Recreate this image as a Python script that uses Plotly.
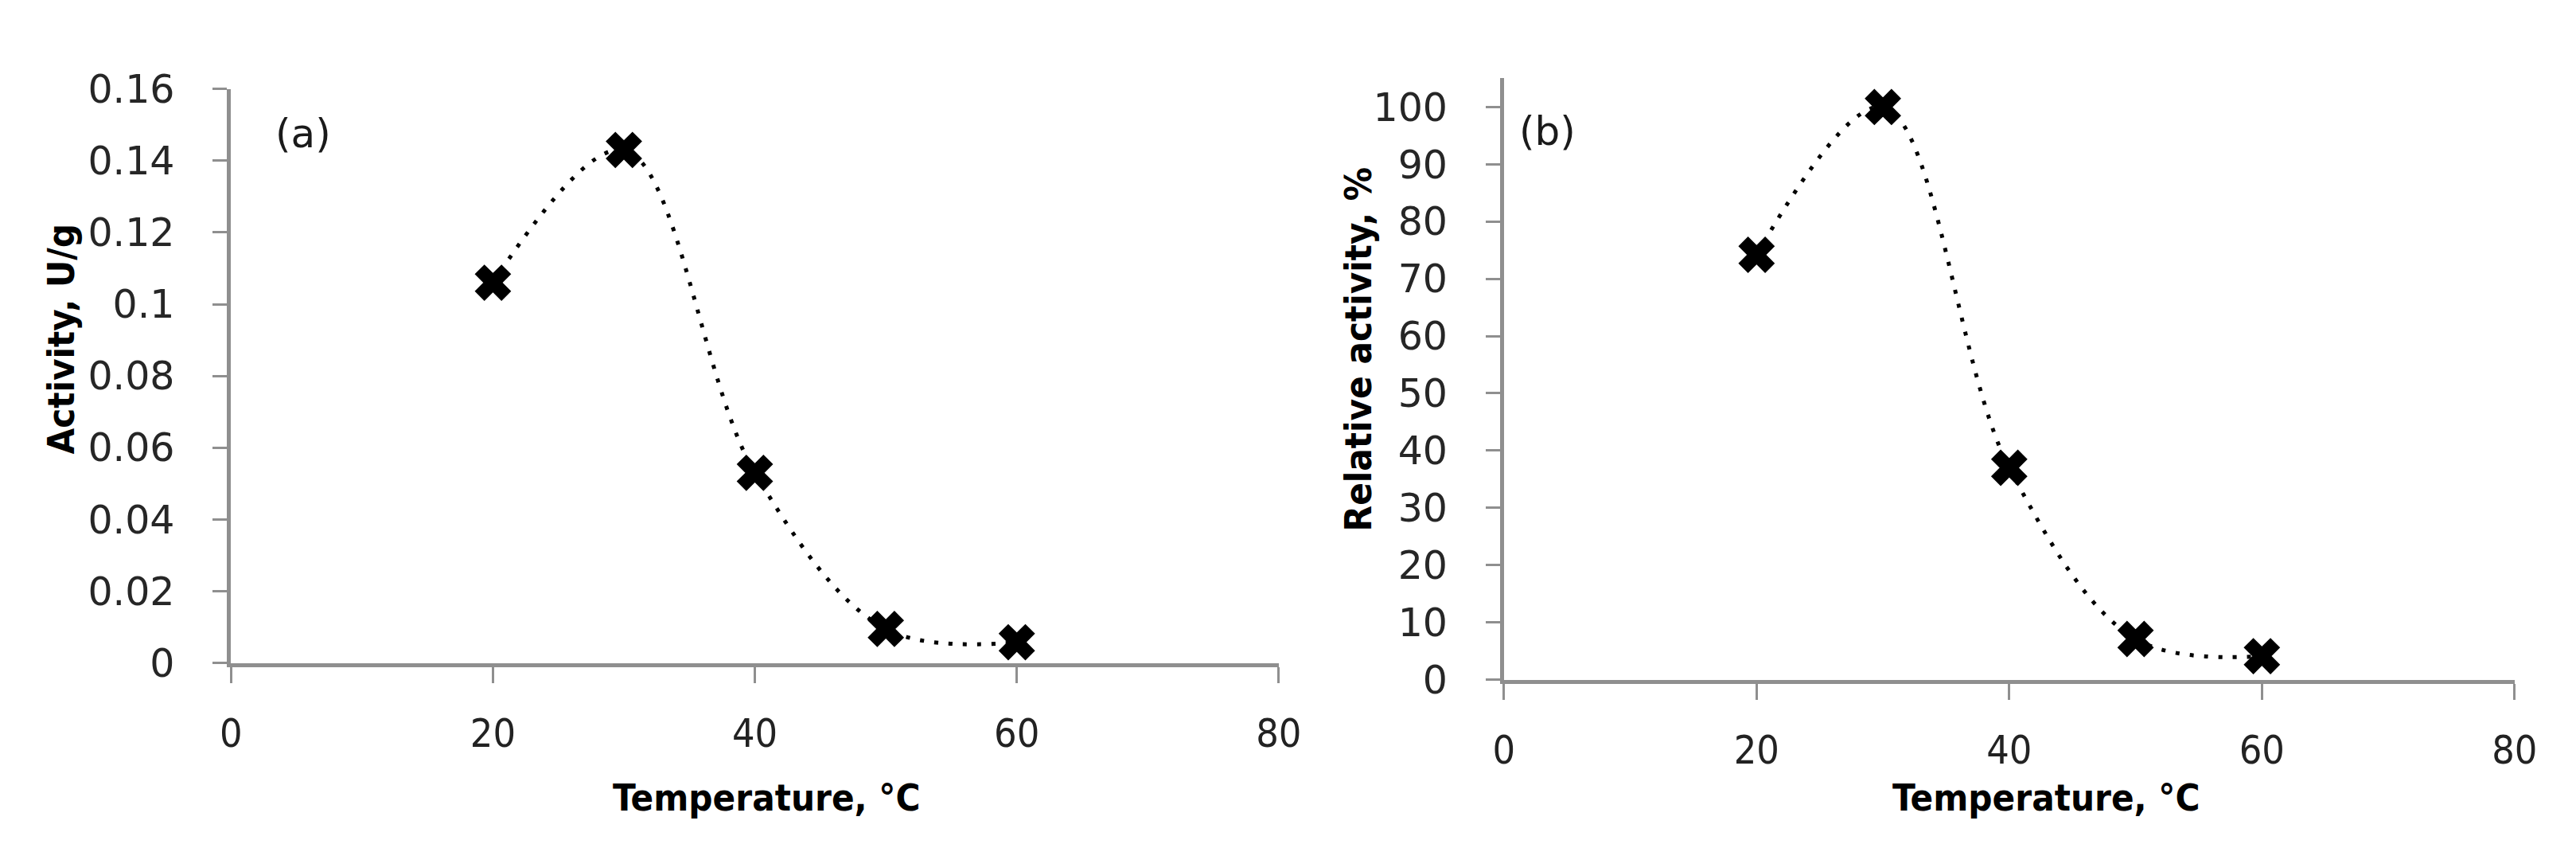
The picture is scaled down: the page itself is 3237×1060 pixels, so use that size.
import plotly.graph_objects as go

# data
temperature = [20, 30, 40, 50, 60]
activity_u_per_g = [0.106, 0.143, 0.053, 0.0095, 0.0058]
relative_activity = [74.2, 100, 37, 7.1, 4.1]

y1_ticks = [0, 0.02, 0.04, 0.06, 0.08, 0.1, 0.12, 0.14, 0.16]
y1_labels = ["0", "0.02", "0.04", "0.06", "0.08", "0.1", "0.12", "0.14", "0.16"]
y2_ticks = [0, 10, 20, 30, 40, 50, 60, 70, 80, 90, 100]
x_ticks = [0, 20, 40, 60, 80]

AXIS_GREY = "#8f8f8f"
TICK_FONT = "DejaVu Sans, Verdana, sans-serif"
NARROW_FONT = "DejaVu Sans Condensed, Liberation Sans Narrow, Roboto, sans-serif"

fig = go.Figure()

line_style = dict(color="black", width=5, shape="spline", smoothing=1.0, dash="5px,13px")
marker_style = dict(symbol="x", size=38, color="black", line=dict(color="black", width=2))

fig.add_trace(go.Scatter(x=temperature, y=activity_u_per_g, mode="lines+markers",
                         line=line_style, marker=marker_style, xaxis="x", yaxis="y",
                         showlegend=False))
fig.add_trace(go.Scatter(x=temperature, y=relative_activity, mode="lines+markers",
                         line=line_style, marker=marker_style, xaxis="x2", yaxis="y2",
                         showlegend=False))

x_common = dict(range=[0, 80], tickvals=x_ticks, showline=True, linecolor=AXIS_GREY,
                linewidth=5, ticks="outside", ticklen=20, tickwidth=3, tickcolor=AXIS_GREY,
                showgrid=False, zeroline=False, ticklabelstandoff=20,
                tickfont=dict(family=NARROW_FONT, size=50, color="#222222"))
y_common = dict(showline=True, linecolor=AXIS_GREY, linewidth=5, ticks="outside",
                ticklen=18, tickwidth=3, tickcolor=AXIS_GREY, showgrid=False,
                zeroline=False, ticklabelstandoff=38,
                tickfont=dict(family=TICK_FONT, size=49, color="#262626"))

fig.update_layout(
    width=3237, height=1060,
    margin=dict(l=0, r=0, t=0, b=0),
    paper_bgcolor="white", plot_bgcolor="white",
    xaxis=dict(domain=[0.0840, 0.4962], anchor="y", **x_common),
    yaxis=dict(domain=[0.2057, 0.9245], anchor="x", range=[0, 0.16],
               tickvals=y1_ticks, ticktext=y1_labels, **y_common),
    xaxis2=dict(domain=[0.5848, 0.9824], anchor="y2", **x_common),
    yaxis2=dict(domain=[0.1849, 0.9377], anchor="x2", range=[0, 105],
                tickvals=y2_ticks, **y_common),
)

title_font = dict(family=NARROW_FONT, size=47, color="black")
annos = [
    dict(text="<b>Activity, U/g</b>", x=0.0170, y=0.611, textangle=-90),
    dict(text="<b>Relative activity, %</b>", x=0.5273, y=0.599, textangle=-90),
    dict(text="<b>Temperature, °C</b>", x=0.2948, y=0.037),
    dict(text="<b>Temperature, °C</b>", x=0.7983, y=0.037),
]
for a in annos:
    fig.add_annotation(xref="paper", yref="paper", xanchor="center", yanchor="middle",
                       showarrow=False, font=title_font, **a)

panel_font = dict(family=TICK_FONT, size=50, color="#1a1a1a")
fig.add_annotation(text="(a)", xref="paper", yref="paper", x=0.1007, y=0.899,
                   showarrow=False, font=panel_font)
fig.add_annotation(text="(b)", xref="paper", yref="paper", x=0.6018, y=0.902,
                   showarrow=False, font=panel_font)

fig.write_html("out.html")
